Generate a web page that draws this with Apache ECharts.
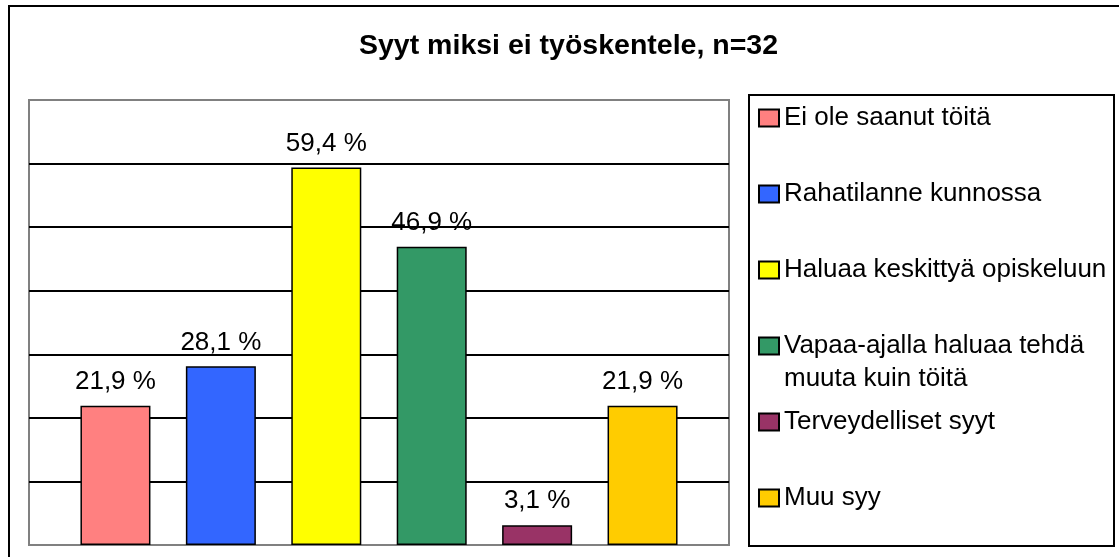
<!DOCTYPE html>
<html>
<head>
<meta charset="utf-8">
<script src="https://cdn.jsdelivr.net/npm/echarts@6/dist/echarts.min.js"></script>
<style>
  html, body { margin: 0; padding: 0; background: #fff; }
  #chart { width: 1119px; height: 557px; }
</style>
</head>
<body>
<div id="chart"></div>
<script>
// data
const groups = [''];
const reasons = [
  'Ei ole saanut töitä',
  'Rahatilanne kunnossa',
  'Haluaa keskittyä opiskeluun',
  'Vapaa-ajalla haluaa tehdä',
  'Terveydelliset syyt',
  'Muu syy'
];
const shares = [21.9, 28.1, 59.4, 46.9, 3.1, 21.9];
const colors = ['#FF8080', '#3366FF', '#FFFF00', '#339966', '#993366', '#FFCC00'];
const yTicks = [0, 10, 20, 30, 40, 50, 60, 70];

const font = "'Liberation Sans', Arial, sans-serif";

const chart = echarts.init(document.getElementById('chart'));

// one bar series per reason, all in the same group
const series = reasons.map((name, i) => ({
  type: 'bar',
  name: name,
  data: [shares[i]],
  barWidth: 70,
  barGap: '50.6%',
  itemStyle: { color: colors[i], borderColor: '#000', borderWidth: 1.5 },
  label: {
    show: true,
    position: 'top',
    distance: 11,
    color: '#000',
    fontSize: 26,
    fontFamily: font,
    formatter: p => p.value.toFixed(1).replace('.', ',') + ' %'
  }
}));

chart.setOption({
  animation: false,
  backgroundColor: '#fff',
  title: {
    text: 'Syyt miksi ei työskentele, n=32',
    left: 354,
    top: 27,
    textStyle: { fontSize: 28.5, fontWeight: 'bold', color: '#000', fontFamily: font }
  },
  grid: {
    left: 29, top: 100, right: 390, bottom: 12,
    show: true, borderColor: '#808080', borderWidth: 2
  },
  xAxis: {
    type: 'category',
    data: groups,
    axisLine: { show: false },
    axisTick: { show: false },
    axisLabel: { show: false }
  },
  yAxis: {
    type: 'value',
    min: yTicks[0],
    max: yTicks[yTicks.length - 1],
    interval: 10,
    axisLine: { show: false },
    axisTick: { show: false },
    axisLabel: { show: false },
    splitLine: {
      lineStyle: {
        // outer lines keep the grey frame colour
        color: ['#808080', '#000', '#000', '#000', '#000', '#000', '#000', '#808080'],
        width: 2
      }
    }
  },
  legend: {
    orient: 'vertical',
    left: 758,
    top: 105,
    padding: 0,
    itemGap: 50,
    itemWidth: 20,
    itemHeight: 17,
    icon: 'rect',
    selectedMode: false,
    textStyle: { fontSize: 26, color: '#000', fontFamily: font },
    data: reasons
  },
  graphic: [
    {
      type: 'rect',
      shape: { x: 9, y: 6, width: 1200, height: 600 },
      style: { fill: 'none', stroke: '#000', lineWidth: 2 },
      silent: true
    },
    {
      type: 'rect',
      shape: { x: 749, y: 95, width: 365, height: 451 },
      style: { fill: 'none', stroke: '#000', lineWidth: 2 },
      silent: true
    },
    {
      type: 'text',
      left: 784,
      top: 366,
      style: { text: 'muuta kuin töitä', fontSize: 26, fill: '#000', fontFamily: font },
      silent: true
    }
  ],
  series: series
});
</script>
</body>
</html>
